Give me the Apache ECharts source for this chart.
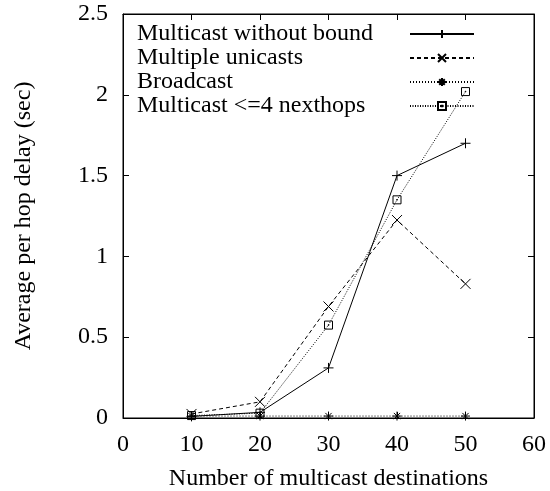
<!DOCTYPE html>
<html>
<head>
<meta charset="utf-8">
<script src="https://cdn.jsdelivr.net/npm/echarts@6/dist/echarts.min.js"></script>
<style>html,body{margin:0;padding:0;background:#fff}#c{width:550px;height:491px}</style>
</head>
<body>
<div id="c"></div>
<script>
var xValues = [10, 20, 30, 40, 50];
var seriesNames = ['Multicast without bound', 'Multiple unicasts', 'Broadcast', 'Multicast <=4 nexthops'];
var multicastNoBound = [0.01, 0.035, 0.31, 1.50, 1.70];
var multipleUnicasts = [0.025, 0.10, 0.69, 1.225, 0.83];
var broadcast = [0.012, 0.012, 0.012, 0.012, 0.012];
var multicast4 = [0.015, 0.03, 0.575, 1.35, 2.02];
var xTicks = [0, 10, 20, 30, 40, 50, 60];
var yTicks = [0, 0.5, 1, 1.5, 2, 2.5];

var FONT = 'Liberation Serif';
var symbols = [
  'path://M0,5L10,5M5,0L5,10',
  'path://M0,0L10,10M10,0L0,10',
  'path://M0,5L10,5M5,0L5,10M1.5,1.5L8.5,8.5M8.5,1.5L1.5,8.5',
  'path://M0,0L10,0L10,10L0,10ZM4.6,4.6L5.4,4.6L5.4,5.4L4.6,5.4Z'
];
var symSizes = [10, 10, 9, 8];
var lineTypes = ['solid', [4, 3], [1, 2], [1, 1.5]];
var allData = [multicastNoBound, multipleUnicasts, broadcast, multicast4];

function pairs(arr) { return xValues.map(function (x, i) { return [x, arr[i]]; }); }

var series = seriesNames.map(function (n, k) {
  return {
    name: n,
    type: 'line',
    data: pairs(allData[k]),
    symbol: symbols[k],
    symbolSize: symSizes[k],
    showAllSymbol: true,
    lineStyle: { color: '#000', width: 1, type: lineTypes[k] },
    itemStyle: { color: 'rgba(0,0,0,0)', borderColor: '#000', borderWidth: 1 },
    emphasis: { disabled: true },
    z: 5 - k
  };
});

var axisTxt = { fontFamily: FONT, fontSize: 24, color: '#000' };
var chart = echarts.init(document.getElementById('c'), null, { renderer: 'canvas' });
chart.setOption({
  animation: false,
  backgroundColor: '#fff',
  grid: { left: 123, right: 16, top: 14, bottom: 73, containLabel: false, outerBoundsMode: 'none', show: true, borderColor: '#000', borderWidth: 1, backgroundColor: 'transparent' },
  legend: {
    orient: 'vertical',
    left: 132,
    top: 17,
    align: 'right',
    itemWidth: 64,
    itemHeight: 10,
    itemGap: 0,
    selectedMode: false,
    data: seriesNames,
    formatter: function (name) { return '{t|' + name + '}'; },
    textStyle: {
      fontFamily: FONT, fontSize: 24, color: '#000',
      rich: { t: { fontFamily: FONT, fontSize: 24, color: '#000', width: 268, align: 'left', lineHeight: 23.5 } }
    }
  },
  xAxis: [{
    type: 'value', min: 0, max: 60, interval: 10,
    name: 'Number of multicast destinations', nameLocation: 'middle', nameGap: 49,
    nameTextStyle: axisTxt,
    axisLine: { show: true, onZero: false, lineStyle: { color: '#000', width: 1 } },
    axisTick: { show: true, inside: true, length: 6, lineStyle: { color: '#000' } },
    axisLabel: { fontFamily: FONT, fontSize: 24, color: '#000', margin: 15, formatter: function (v) { return xTicks.indexOf(v) >= 0 ? String(v) : ''; } },
    splitLine: { show: false }
  }, {
    type: 'value', min: 0, max: 60, interval: 10, position: 'top',
    axisLine: { show: true, onZero: false, lineStyle: { color: '#000', width: 1 } },
    axisTick: { show: true, inside: true, length: 6, lineStyle: { color: '#000' } },
    axisLabel: { show: false }, splitLine: { show: false }
  }],
  yAxis: [{
    type: 'value', min: 0, max: 2.5, interval: 0.5,
    name: 'Average per hop delay (sec)', nameLocation: 'middle', nameGap: 87, nameRotate: 90,
    nameTextStyle: axisTxt,
    axisLine: { show: true, onZero: false, lineStyle: { color: '#000', width: 1 } },
    axisTick: { show: true, inside: true, length: 6, lineStyle: { color: '#000' } },
    axisLabel: { fontFamily: FONT, fontSize: 24, color: '#000', margin: 15, formatter: function (v) { return yTicks.indexOf(v) >= 0 ? String(v) : ''; } },
    splitLine: { show: false }
  }, {
    type: 'value', min: 0, max: 2.5, interval: 0.5, position: 'right',
    axisLine: { show: true, onZero: false, lineStyle: { color: '#000', width: 1 } },
    axisTick: { show: true, inside: true, length: 6, lineStyle: { color: '#000' } },
    axisLabel: { show: false }, splitLine: { show: false }
  }],
  series: series
});
</script>
</body>
</html>
